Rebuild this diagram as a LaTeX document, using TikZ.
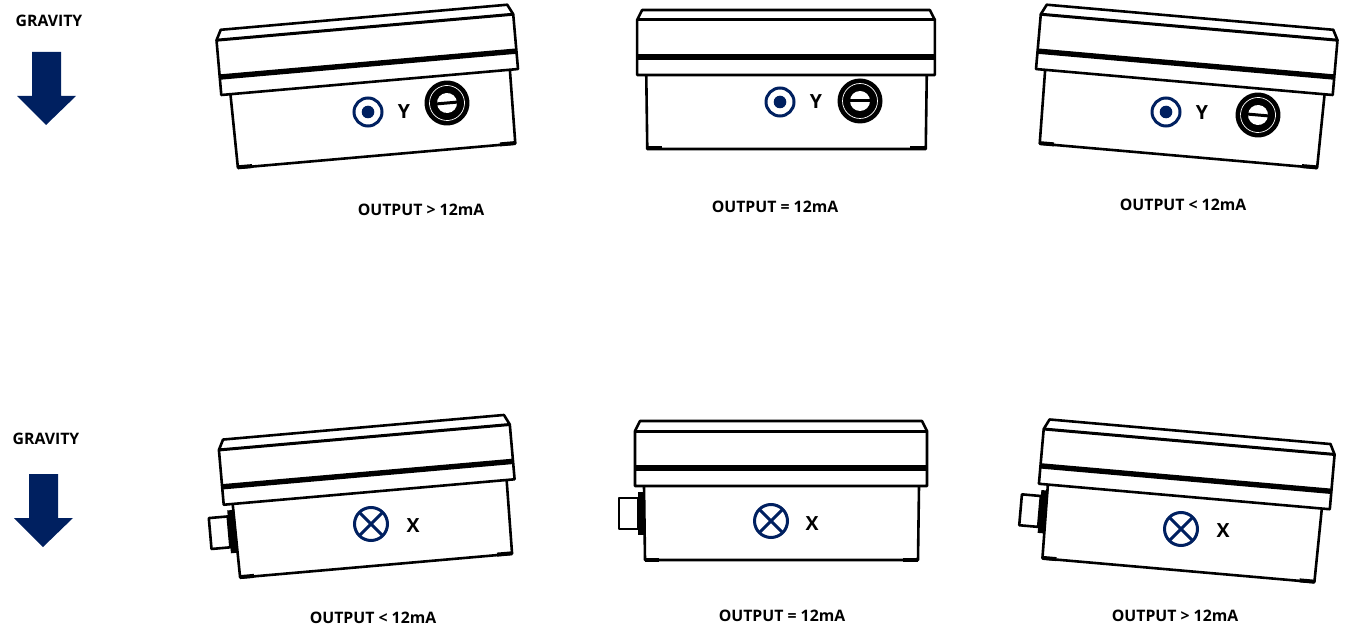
\documentclass[tikz,border=0pt]{standalone}
\usepackage{fontspec}
\setmainfont{Open Sans}
\definecolor{navy}{HTML}{002060}
\tikzset{
  caption/.style={font=\fontsize{15.8}{18}\selectfont\bfseries,inner sep=0pt,yshift=-1pt},
  axisname/.style={font=\fontsize{19.5}{22}\selectfont\bfseries,inner sep=0pt,yshift=-1pt},
  boxline/.style={draw=black,line width=2.6pt,line join=round},
  marker/.style={draw=navy,line width=3pt,fill=white},
  enclosure/.pic={
    % lid
    \draw[boxline,fill=white] (-146,-4) -- (-146,-59) -- (-141,-69) -- (141,-69) -- (146,-59) -- (146,-4) -- cycle;
    \draw[black,line width=3pt] (-146,-59) -- (146,-59);
    \draw[black,line width=5.4pt] (-146,-22) -- (146,-22);
    % body
    \draw[boxline] (-137,-4) -- (-136,70) -- (137,70) -- (138,-4);
    \draw[black,line width=4pt] (-136,69.5) -- (-122,69.5);
    \draw[black,line width=4pt] (122,69.5) -- (137,69.5);
  },
  glandnut/.pic={
    \fill[black] (0,0) circle (22.5);
    \draw[white,line width=0.7pt] (0,0) circle (17.5);
    \fill[white] (0,0) circle (10);
    \draw[black,line width=3pt] (-11,0) -- (11,0);
  },
  conduit/.pic={
    \draw[boxline,fill=white] (-143,8) rectangle (-162,39);
    \fill[black] (-143,2) rectangle (-136,45);
  },
}
\begin{document}
\begin{tikzpicture}[x=1pt,y=-1pt]
\useasboundingbox (0,0) rectangle (1349,628);
% gravity arrows
\node[caption] (gravitytop) at (49,20) {GRAVITY};
\fill[navy] (32,52) -- (61,52) -- (61,96) -- (76,96) -- (46,125) -- (17,96) -- (32,96) -- cycle;
\node[caption] (gravitybottom) at (46,438) {GRAVITY};
\fill[navy] (29,474) -- (58,474) -- (58,518) -- (73,518) -- (43,547) -- (14,518) -- (29,518) -- cycle;
% top row
\pic[rotate=5,xscale=1.02] at (370,86) {enclosure};
\pic[xscale=1.02] at (786,79) {enclosure};
\pic[rotate=-5,xscale=1.02] at (1184,86) {enclosure};
\pic[rotate=5] at (447,103) {glandnut};
\pic at (860,101) {glandnut};
\pic[rotate=-5] at (1258,115) {glandnut};
\foreach \px/\py/\lx/\ly in {368/112/404/111,780/102/816/101,1166/112/1202/112}{
  \draw[marker] (\px,\py) circle (14);
  \fill[navy] (\px,\py) circle (6.3);
  \node[axisname] at (\lx,\ly) {Y};
}
\node[caption] (outa) at (421,209) {OUTPUT > 12mA};
\node[caption] (outb) at (775,206) {OUTPUT = 12mA};
\node[caption] (outc) at (1183,204) {OUTPUT < 12mA};
% bottom row
\pic[rotate=5] at (369.5,496) {conduit};
\pic at (781,490) {conduit};
\pic[rotate=-5] at (1184,500.5) {conduit};
\pic[rotate=5] at (369.5,496) {enclosure};
\pic at (781,490) {enclosure};
\pic[rotate=-5] at (1184,500.5) {enclosure};
\foreach \px/\py/\lx/\ly in {371/524/413/525,771/521/812/523,1181/529/1223/530}{
  \draw[marker] (\px,\py) circle (16.5);
  \draw[navy,line width=3pt] (\px-11.7,\py-11.7) -- (\px+11.7,\py+11.7);
  \draw[navy,line width=3pt] (\px-11.7,\py+11.7) -- (\px+11.7,\py-11.7);
  \node[axisname] at (\lx,\ly) {X};
}
\node[caption] (outd) at (373,617) {OUTPUT < 12mA};
\node[caption] (oute) at (782,615) {OUTPUT = 12mA};
\node[caption] (outf) at (1175,615) {OUTPUT > 12mA};
\end{tikzpicture}
\end{document}
